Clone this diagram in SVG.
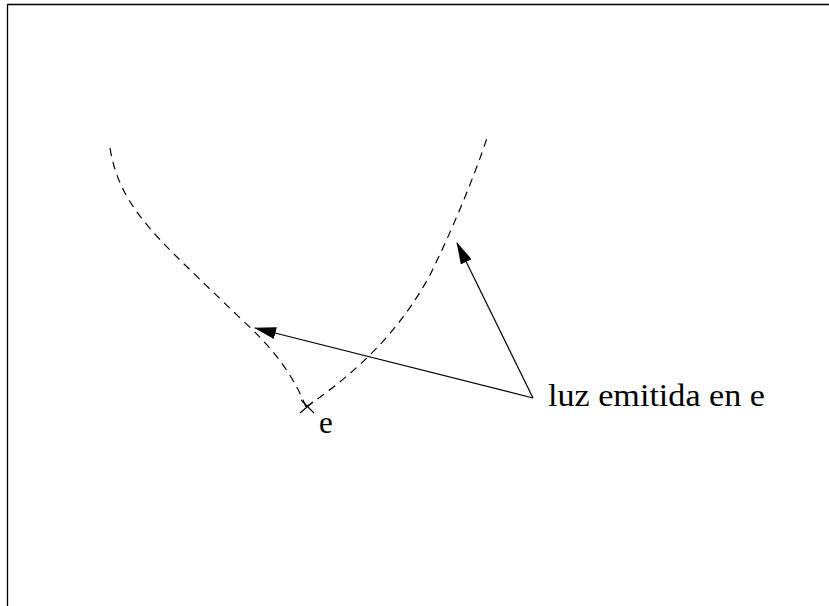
<svg xmlns="http://www.w3.org/2000/svg" width="829" height="606" viewBox="0 0 829 606">
<style>
.frame{fill:none;stroke:#000;stroke-width:1.3}
.dash{fill:none;stroke:#000;stroke-width:1.2;stroke-dasharray:8 6}
.ray{fill:none;stroke:#000;stroke-width:1.2}
.lbl{font-family:"Liberation Serif","Times New Roman",serif;font-size:31px;fill:#000}
</style>
<defs>
<marker id="ah" viewBox="0 0 22 12" refX="21" refY="6" markerWidth="22" markerHeight="12" markerUnits="userSpaceOnUse" orient="auto">
<path d="M0,0 L22,6 L0,12 Z" fill="#000"/>
</marker>
</defs>
<path class="frame" d="M7.5,606 V4.5 H829"/>
<g id="curves">
<path id="left-curve" class="dash" d="M110,148 C120,210 160,240 240,318 C270,345 292,372 306,407"/>
<path id="right-curve" class="dash" d="M306,407 C360,370 400,330 430,275 C450,235 475,175 487,138"/>
</g>
<g id="point-e">
<path class="ray" d="M301,400 L314,413 M300,413 L313,402"/>
<text class="lbl" x="319" y="433">e</text>
</g>
<g id="label">
<text class="lbl" x="548" y="406" textLength="217" lengthAdjust="spacingAndGlyphs">luz emitida en e</text>
</g>
<g id="connectors">
<line class="ray" x1="533" y1="398" x2="255" y2="328" marker-end="url(#ah)"/>
<line class="ray" x1="533" y1="398" x2="457" y2="243" marker-end="url(#ah)"/>
</g>
</svg>
